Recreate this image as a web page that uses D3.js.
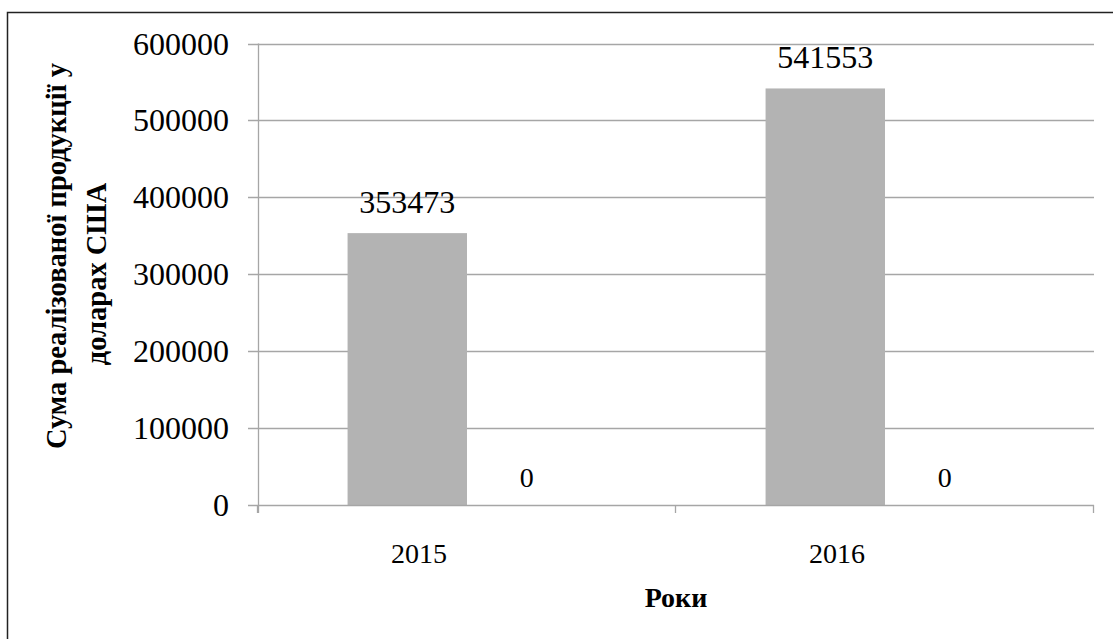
<!DOCTYPE html>
<html>
<head>
<meta charset="utf-8">
<script src="https://cdn.jsdelivr.net/npm/d3@7"></script>
<style>
  html, body { margin: 0; padding: 0; background: #fff; }
  svg { display: block; }
</style>
</head>
<body>
<script>
// Sales of products (USD) by year
const years = ["2015", "2016"];
const seriesNames = ["sold", "other"];
const soldValues = [353473, 541553];
const otherValues = [0, 0];
const yTicks = [0, 100000, 200000, 300000, 400000, 500000, 600000];
const yTitleLines = ["Сума реалізованої продукції у", "доларах США"];
const xTitle = "Роки";

const FONT = "'Liberation Serif', 'Times New Roman', Times, serif";

const W = 1113, H = 639;
const svg = d3.select("body").append("svg").attr("width", W).attr("height", H)
  .attr("font-family", FONT);

// outer frame
svg.append("rect")
  .attr("x", 7.5).attr("y", 12.5)
  .attr("width", 1300).attr("height", 1000)
  .attr("fill", "none").attr("stroke", "#222").attr("stroke-width", 1.5);

const plot = { left: 258, right: 1094, top: 43.5, bottom: 505 };

const x = d3.scaleBand().domain(years).range([plot.left, plot.right]).padding(0);
const xs = d3.scaleBand().domain(seriesNames).range([0, x.bandwidth()])
  .paddingInner(0).paddingOuter(0.75);
const y = d3.scaleLinear().domain([0, 600000]).range([plot.bottom, plot.top]);

const gridColor = "#a6a6a6";

// horizontal gridlines with left tick marks
svg.append("g").selectAll("line").data(yTicks.filter(d => d > 0)).join("line")
  .attr("x1", plot.left - 10).attr("x2", plot.right)
  .attr("y1", d => Math.round(y(d)) + 0.5).attr("y2", d => Math.round(y(d)) + 0.5)
  .attr("stroke", gridColor).attr("stroke-width", 1.3);

// y tick labels
svg.append("g").selectAll("text").data(yTicks).join("text")
  .attr("x", 229).attr("y", d => y(d) + 11)
  .attr("text-anchor", "end")
  .attr("font-size", 32)
  .text(d => d);

// data
const rows = years.map((yr, i) => ({ year: yr, values: [
  { s: seriesNames[0], v: soldValues[i] },
  { s: seriesNames[1], v: otherValues[i] }
]}));

const groups = svg.append("g").selectAll("g").data(rows).join("g")
  .attr("transform", d => `translate(${x(d.year)},0)`);

groups.selectAll("rect").data(d => d.values).join("rect")
  .attr("x", d => xs(d.s)).attr("width", xs.bandwidth())
  .attr("y", d => y(d.v)).attr("height", d => y(0) - y(d.v))
  .attr("fill", "#b3b3b3");

groups.selectAll("text").data(d => d.values).join("text")
  .attr("x", d => xs(d.s) + xs.bandwidth() / 2)
  .attr("y", d => y(d.v) - (d.v > 0 ? 20 : 18.5))
  .attr("text-anchor", "middle")
  .attr("font-size", d => d.v > 0 ? 32 : 28)
  .text(d => d.v);

// axes
svg.append("line")
  .attr("x1", plot.left + 0.5).attr("x2", plot.left + 0.5)
  .attr("y1", plot.top).attr("y2", plot.bottom + 8)
  .attr("stroke", gridColor).attr("stroke-width", 1.3);
svg.append("line")
  .attr("x1", plot.left - 10).attr("x2", plot.right)
  .attr("y1", plot.bottom + 0.5).attr("y2", plot.bottom + 0.5)
  .attr("stroke", gridColor).attr("stroke-width", 1.5);
const bounds = years.map(d => x(d)).concat([plot.right]);
svg.append("g").selectAll("line").data(bounds).join("line")
  .attr("x1", d => Math.round(d) - 0.5).attr("x2", d => Math.round(d) - 0.5)
  .attr("y1", plot.bottom).attr("y2", plot.bottom + 8)
  .attr("stroke", gridColor).attr("stroke-width", 1.3);

// category labels
svg.append("g").selectAll("text").data(years).join("text")
  .attr("x", d => x(d) + x.bandwidth() / 2 - 48)
  .attr("y", 563)
  .attr("text-anchor", "middle")
  .attr("font-size", 28)
  .text(d => d);

// axis titles
svg.append("text")
  .attr("x", (plot.left + plot.right) / 2).attr("y", 607)
  .attr("text-anchor", "middle")
  .attr("font-size", 28).attr("font-weight", "bold")
  .text(xTitle);

const yTitleCenters = [[57, 256], [97, 274]];
svg.append("g").selectAll("text").data(yTitleLines).join("text")
  .attr("transform", (d, i) => `translate(${yTitleCenters[i][0] + 9},${yTitleCenters[i][1]}) rotate(-90)`)
  .attr("text-anchor", "middle")
  .attr("font-size", 28.5).attr("font-weight", "bold")
  .text(d => d);
</script>
</body>
</html>
